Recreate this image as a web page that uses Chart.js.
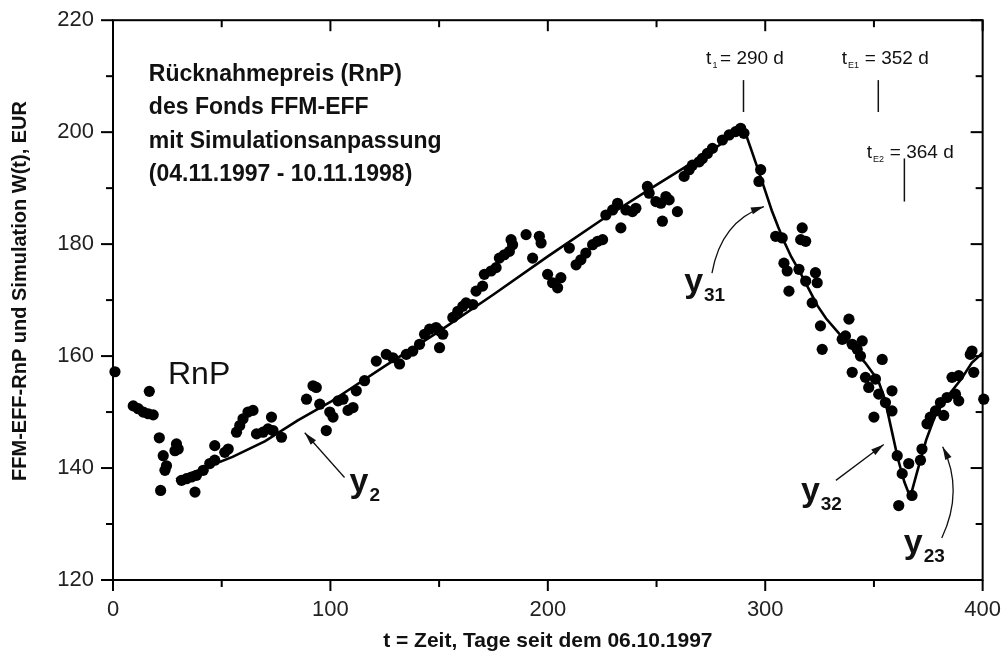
<!DOCTYPE html>
<html>
<head>
<meta charset="utf-8">
<script src="https://cdn.jsdelivr.net/npm/chart.js@4.4.1/dist/chart.umd.min.js"></script>
<style>
  html, body { margin: 0; padding: 0; background: #fff; }
  canvas { display: block; }
</style>
</head>
<body>
<canvas id="chart" width="1007" height="657"></canvas>
<script>
// Rücknahmepreis (RnP), Tage seit 06.10.1997
const rnpT = [0.9, 9.3, 11.6, 13.9, 16.2, 16.7, 18.5, 21.3, 21.9, 23.1, 23.9, 24.6, 28.5, 29.2, 30.0,
  31.5, 33.8, 36.1, 37.7, 38.4, 41.5, 44.5, 46.8, 46.8, 51.4, 53.0, 56.8, 58.3, 59.8, 62.1, 64.4,
  66.0, 69.0, 71.3, 72.9, 73.6, 77.5, 89.0, 92.0, 93.5, 95.1, 98.1, 99.7, 101.2, 103.5, 105.8,
  108.1, 110.4, 111.9, 115.7, 121.1, 125.7, 128.7, 131.8, 134.9, 137.9, 141.0, 143.3, 145.6,
  148.6, 150.2, 150.2, 151.7, 156.3, 158.6, 160.9, 162.4, 165.5, 167.0, 170.0, 170.8, 173.9,
  176.2, 177.7, 180.0, 182.3, 183.1, 183.8, 190.0, 193.0, 196.1, 196.9, 199.9, 202.2, 204.5,
  206.0, 209.9, 213.0, 215.2, 217.5, 220.6, 222.9, 225.2, 226.7, 229.8, 232.1, 233.6, 235.9,
  238.9, 240.5, 245.8, 246.6, 249.7, 252.0, 252.7, 254.3, 255.8, 259.6, 262.7, 265.0, 266.5,
  269.6, 271.1, 273.4, 275.7, 280.3, 283.4, 286.4, 288.7, 290.2, 297.1, 297.9, 304.8, 307.8,
  308.6, 310.1, 310.9, 315.5, 316.3, 317.0, 318.6, 318.6, 321.6, 323.1, 323.9, 325.4, 326.2,
  335.4, 336.9, 338.5, 340.0, 340.0, 342.3, 343.8, 344.6, 346.1, 347.6, 350.0, 350.7, 352.2,
  353.8, 355.3, 358.3, 358.3, 360.7, 361.4, 363.0, 366.0, 367.5, 371.4, 372.1, 374.4, 375.9,
  378.3, 380.6, 382.1, 383.6, 385.9, 387.5, 389.0, 389.0, 394.3, 395.1, 395.9, 400.5];
const rnpW = [157.2, 151.1, 150.6, 150.0, 149.7, 153.7, 149.5, 145.4, 136.0, 142.2, 139.6, 140.4, 143.1, 144.3, 143.4,
  137.8, 138.1, 138.4, 135.7, 138.7, 139.6, 140.8, 141.4, 144.0, 142.8, 143.4, 146.4, 147.6, 148.8, 150.0, 150.3,
  146.1, 146.4, 147.0, 149.1, 146.7, 145.5, 152.3, 154.7, 154.4, 151.4, 146.7, 150.0, 149.1, 152.0, 152.3,
  150.3, 150.8, 153.8, 155.6, 159.1, 160.3, 159.7, 158.6, 160.3, 160.9, 162.1, 163.9, 164.8,
  165.1, 164.5, 161.5, 163.9, 166.9, 168.0, 168.9, 169.5, 169.2, 171.6, 172.5, 174.6, 175.2,
  175.8, 177.5, 178.1, 178.7, 180.8, 179.9, 181.7, 177.5, 181.4, 180.2, 174.6, 173.1, 172.2,
  174.0, 179.3, 176.3, 177.2, 178.4, 179.9, 180.5, 180.8, 185.2, 186.1, 187.3, 182.9, 186.1,
  185.8, 186.4, 190.3, 189.1, 187.6, 187.3, 184.1, 188.5, 187.9, 185.8, 192.1, 193.3, 194.1,
  194.7, 195.3, 196.2, 197.1, 198.6, 199.5, 200.1, 200.7, 199.8, 191.2, 193.3, 181.4, 181.1,
  176.6, 175.2, 171.6, 175.5, 180.8, 182.9, 180.5, 173.4, 169.5, 174.9, 173.1, 165.4, 161.2,
  163.0, 163.6, 166.6, 162.1, 157.1, 161.2, 160.0, 162.7, 156.2, 154.4, 149.1, 155.9, 153.2,
  159.4, 151.7, 153.8, 150.2, 142.2, 133.3, 139.0, 140.8, 135.1, 141.4, 143.4, 147.9, 149.1,
  150.2, 151.7, 149.4, 152.6, 156.2, 153.2, 152.0, 156.5, 160.3, 160.9, 157.1, 152.3];

// Simulation W(t): y2, y31, y32, y23
const fitT = [29, 40, 55, 70, 85, 100, 125, 150, 175, 200, 225, 250, 275, 290,
  293, 297, 300, 303, 306, 309, 312, 316, 320, 324, 328, 334, 340, 346, 352,
  355, 358, 361, 364, 366.7, 370, 374, 378, 383, 390, 395, 400];
const fitW = [138, 139.7, 142, 144.8, 148.5, 151.8, 158.2, 164.4, 171, 177.8, 184.4, 190.6, 196.6, 200.8,
  197.5, 193, 189.5, 186, 183, 180.2, 177.7, 175, 172, 169, 166.7, 164, 161.5, 158.8, 155.6,
  152.3, 147, 141.7, 137.5, 134.8, 139.5, 145, 149.2, 152.4, 155.8, 158.8, 160.6];

const xTicks = [0, 100, 200, 300, 400];
const xMinor = [50, 150, 250, 350];
const yTicks = [120, 140, 160, 180, 200, 220];
const yMinor = [130, 150, 170, 190, 210];

const xTitle = 't = Zeit, Tage seit dem 06.10.1997';
const yTitle = 'FFM-EFF-RnP und Simulation W(t), EUR';
const infoLines = ['Rücknahmepreis (RnP)', 'des Fonds FFM-EFF', 'mit Simulationsanpassung', '(04.11.1997 - 10.11.1998)'];

const SANS = "'Liberation Sans', Arial, sans-serif";
const NARROW = "'Liberation Sans Narrow', 'Liberation Sans', Arial, sans-serif";
const INK = '#111';

function subText(ctx, x, y, main, sub, mainFont, subFont, dy) {
    ctx.font = mainFont;
    ctx.fillText(main, x, y);
    const w = ctx.measureText(main).width;
    ctx.font = subFont;
    ctx.fillText(sub, x + w + 1, y + dy);
    return x + w + 1 + ctx.measureText(sub).width;
}

function arrowHead(ctx, fx, fy, tx, ty) {
    const a = Math.atan2(ty - fy, tx - fx);
    const len = 13, half = 3.5;
    ctx.beginPath();
    ctx.moveTo(tx, ty);
    ctx.lineTo(tx - len * Math.cos(a) + half * Math.sin(a), ty - len * Math.sin(a) - half * Math.cos(a));
    ctx.lineTo(tx - len * Math.cos(a) - half * Math.sin(a), ty - len * Math.sin(a) + half * Math.cos(a));
    ctx.closePath();
    ctx.fill();
}

const frame = {
    id: 'frame',
    beforeDatasetsDraw(chart) {
        const { ctx, chartArea: a, scales: { x, y } } = chart;
        ctx.save();
        ctx.strokeStyle = '#000';
        ctx.lineWidth = 2;
        ctx.strokeRect(a.left, a.top, a.right - a.left, a.bottom - a.top);
        const tick = (x1, y1, x2, y2) => { ctx.beginPath(); ctx.moveTo(x1, y1); ctx.lineTo(x2, y2); ctx.stroke(); };
        xTicks.forEach(v => {
            const px = x.getPixelForValue(v);
            tick(px, a.bottom, px, a.bottom + 11);
            tick(px, a.top, px, a.top + 11);
        });
        xMinor.forEach(v => {
            const px = x.getPixelForValue(v);
            tick(px, a.bottom, px, a.bottom + 7);
            tick(px, a.top, px, a.top + 7);
        });
        yTicks.forEach(v => {
            const py = y.getPixelForValue(v);
            tick(a.left - 12, py, a.left, py);
            tick(a.right - 12, py, a.right, py);
        });
        yMinor.forEach(v => {
            const py = y.getPixelForValue(v);
            tick(a.left - 7, py, a.left, py);
            tick(a.right - 7, py, a.right, py);
        });

        // axis titles
        ctx.fillStyle = INK;
        ctx.font = 'bold 21px ' + NARROW;
        ctx.textAlign = 'center';
        ctx.textBaseline = 'middle';
        ctx.fillText(xTitle, (a.left + a.right) / 2, 641);
        ctx.font = 'bold 20px ' + NARROW;
        ctx.save();
        ctx.translate(20, 291);
        ctx.rotate(-Math.PI / 2);
        ctx.fillText(yTitle, 0, 0);
        ctx.restore();
        ctx.restore();
    },
    afterDatasetsDraw(chart) {
        const { ctx, scales: { x, y } } = chart;
        const X = v => x.getPixelForValue(v);
        const Y = v => y.getPixelForValue(v);
        ctx.save();
        ctx.fillStyle = INK;
        ctx.strokeStyle = INK;
        ctx.textAlign = 'left';
        ctx.textBaseline = 'alphabetic';

        // info block
        ctx.font = 'bold 23px ' + SANS;
        infoLines.forEach((s, i) => ctx.fillText(s, X(16.5), Y(209.2) + i * 33.5));

        ctx.font = '32px ' + SANS;
        ctx.fillText('RnP', X(25.3), Y(155.1));

        // curve labels
        const big = 'bold 34px ' + SANS, small = 'bold 19px ' + SANS;
        subText(ctx, X(108.8), Y(135.8), 'y', '2', big, small, 9);
        subText(ctx, X(262.7), Y(171.4), 'y', '31', big, small, 9);
        subText(ctx, X(316.4), Y(134.2), 'y', '32', big, small, 9);
        subText(ctx, X(363.7), Y(124.8), 'y', '23', big, small, 9);

        // arrows
        ctx.lineWidth = 1.3;
        let p = [X(106.5), Y(138.3), X(88.2), Y(146.3)];
        ctx.beginPath(); ctx.moveTo(p[0], p[1]); ctx.lineTo(p[2], p[3]); ctx.stroke();
        arrowHead(ctx, p[0], p[1], p[2], p[3]);

        p = [X(332.5), Y(137.8), X(354.5), Y(144.2)];
        ctx.beginPath(); ctx.moveTo(p[0], p[1]); ctx.lineTo(p[2], p[3]); ctx.stroke();
        arrowHead(ctx, p[0], p[1], p[2], p[3]);

        let c = [X(275.5), Y(174.8), X(279.6), Y(184), X(299.4), Y(186.7)];
        ctx.beginPath(); ctx.moveTo(c[0], c[1]); ctx.quadraticCurveTo(c[2], c[3], c[4], c[5]); ctx.stroke();
        arrowHead(ctx, c[2], c[3], c[4], c[5]);

        c = [X(381.2), Y(127.5), X(391.5), Y(136), X(381.6), Y(143.8)];
        ctx.beginPath(); ctx.moveTo(c[0], c[1]); ctx.quadraticCurveTo(c[2], c[3], c[4], c[5]); ctx.stroke();
        arrowHead(ctx, c[2], c[3], c[4], c[5]);

        // time markers
        const tf = '19px ' + NARROW, sf = '9px ' + SANS;
        subText(ctx, X(272.8), Y(212.2), 't', '1', tf, sf, 4);
        ctx.font = tf; ctx.fillText('= 290 d', X(279.2), Y(212.2));
        subText(ctx, X(335.2), Y(212.2), 't', 'E1', tf, sf, 4);
        ctx.font = tf; ctx.fillText('= 352 d', X(345.8), Y(212.2));
        subText(ctx, X(346.7), Y(195.4), 't', 'E2', tf, sf, 4);
        ctx.font = tf; ctx.fillText('= 364 d', X(357.3), Y(195.4));

        ctx.lineWidth = 1.5;
        [[290, 209.3, 203.6], [352, 209.3, 203.6], [364, 195.3, 187.6]].forEach(([t, a, b]) => {
            ctx.beginPath(); ctx.moveTo(X(t), Y(a)); ctx.lineTo(X(t), Y(b)); ctx.stroke();
        });
        ctx.restore();
    }
};

new Chart(document.getElementById('chart').getContext('2d'), {
    type: 'scatter',
    data: {
        datasets: [
            {
                label: 'RnP',
                data: rnpT.map((t, i) => ({ x: t, y: rnpW[i] })),
                pointRadius: 5.6,
                pointBackgroundColor: '#000',
                pointBorderWidth: 0,
                clip: false
            },
            {
                label: 'W(t)',
                data: fitT.map((t, i) => ({ x: t, y: fitW[i] })),
                showLine: true,
                borderColor: '#000',
                borderWidth: 2.6,
                pointRadius: 0,
                tension: 0,
                clip: false
            }
        ]
    },
    options: {
        responsive: false,
        animation: false,
        devicePixelRatio: 1,
        layout: { padding: { top: 18, right: 23, left: 0, bottom: 0 } },
        plugins: { legend: { display: false }, tooltip: { enabled: false } },
        scales: {
            x: {
                type: 'linear', min: 0, max: 400,
                afterFit: s => { s.height = 77; },
                afterBuildTicks: s => { s.ticks = xTicks.map(v => ({ value: v })); },
                grid: { display: false, drawTicks: true, tickLength: 11 },
                border: { display: false },
                ticks: { color: '#222', padding: 6, maxRotation: 0, font: { family: SANS, size: 22 } }
            },
            y: {
                type: 'linear', min: 120, max: 220,
                afterFit: s => { s.width = 113; },
                afterBuildTicks: s => { s.ticks = yTicks.map(v => ({ value: v })); },
                grid: { display: false, drawTicks: true, tickLength: 12 },
                border: { display: false },
                ticks: { color: '#222', padding: 7, font: { family: SANS, size: 22 } }
            }
        }
    },
    plugins: [frame]
});
</script>
</body>
</html>
